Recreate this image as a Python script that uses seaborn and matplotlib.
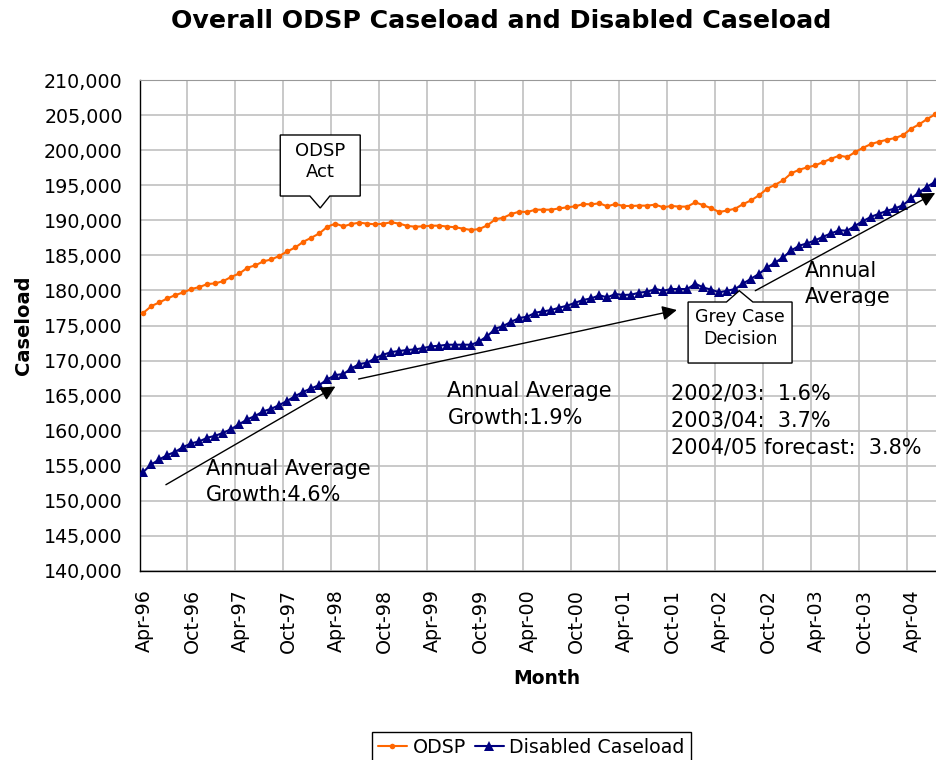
import numpy as np
import pandas as pd
import seaborn as sns
import matplotlib.pyplot as plt
from matplotlib.patches import Polygon
from matplotlib.transforms import Bbox, ScaledTranslation

# --- data (monthly, Apr-96 .. Jul-04) ---
odsp = [176820, 177780, 178300, 178870, 179340, 179730, 180200, 180490, 180910, 181010,
        181340, 181950, 182420, 183240, 183580, 184150, 184420, 184930, 185570, 186140,
        186950, 187520, 188140, 189090, 189520, 189140, 189470, 189660, 189520, 189420,
        189520, 189710, 189520, 189190, 189090, 189140, 189230, 189230, 189100, 189000,
        188800, 188610, 188760, 189280, 190140, 190370, 190900, 191230, 191180, 191510,
        191510, 191510, 191700, 191850, 191990, 192320, 192270, 192420, 191990, 192320,
        192040, 192040, 192090, 192090, 192230, 191850, 192040, 191950, 191950, 192560,
        192150, 191720, 191180, 191400, 191660, 192320, 192850, 193600, 194510, 195080,
        195700, 196700, 197210, 197540, 197830, 198310, 198780, 199210, 199020, 199730,
        200350, 200880, 201210, 201490, 201730, 202160, 203060, 203680, 204440, 205110]

disabled = [154160, 155210, 155920, 156540, 157010, 157700, 158200, 158500, 159000, 159290,
            159720, 160250, 160960, 161620, 162140, 162770, 163140, 163670, 164280, 164950,
            165560, 166050, 166520, 167330, 167940, 168080, 168890, 169510, 169700, 170370,
            170840, 171220, 171370, 171510, 171600, 171790, 172030, 172120, 172260, 172260,
            172260, 172260, 172740, 173500, 174550, 174930, 175550, 176070, 176260, 176830,
            177020, 177210, 177550, 177830, 178260, 178640, 178870, 179300, 179020, 179490,
            179350, 179400, 179680, 179820, 180200, 179960, 180200, 180200, 180200, 180960,
            180420, 180100, 179730, 179960, 180200, 181010, 181680, 182390, 183290, 184000,
            184720, 185700, 186380, 186720, 187150, 187660, 188140, 188570, 188520, 189230,
            189900, 190510, 190940, 191370, 191700, 192180, 193130, 193990, 194790, 195500]

tick_labels = ['Apr-96', 'Oct-96', 'Apr-97', 'Oct-97', 'Apr-98', 'Oct-98', 'Apr-99',
               'Oct-99', 'Apr-00', 'Oct-00', 'Apr-01', 'Oct-01', 'Apr-02', 'Oct-02',
               'Apr-03', 'Oct-03', 'Apr-04']

# Excel-style category axis: points sit in the middle of each month slot
df = pd.DataFrame({'pos': np.arange(len(odsp)) + 0.5,
                   'ODSP': odsp,
                   'Disabled Caseload': disabled})

sns.set_style('white')
plt.rcParams['font.family'] = ['DejaVu Sans']
plt.rcParams['text.color'] = 'black'
plt.rcParams['axes.labelcolor'] = 'black'

fig = plt.figure(figsize=(9.36, 7.6), dpi=100)
ax = fig.add_axes([139.5 / 936, 1 - 571 / 760, 1 - 139.5 / 936, (571 - 80) / 760])

sns.lineplot(data=df, x='pos', y='ODSP', ax=ax, color='#FF6600', lw=1.5,
             marker='o', markersize=4, markeredgewidth=0, label='ODSP', zorder=3)
sns.lineplot(data=df, x='pos', y='Disabled Caseload', ax=ax, color='#000080', lw=1.5,
             marker='^', markersize=7, markeredgewidth=0, label='Disabled Caseload', zorder=3)
handles, labels = ax.get_legend_handles_labels()
ax.get_legend().remove()

ax.set_xlim(0, 99.6)
ax.set_ylim(140000, 210000)
ax.set_yticks(np.arange(140000, 210001, 5000))
ax.yaxis.set_major_formatter(plt.FuncFormatter(lambda v, _: f'{v:,.0f}'))
ax.set_xticks(np.arange(0, 6 * len(tick_labels), 6))
ax.set_xticks(np.arange(3, 100, 6), minor=True)
ax.set_xticklabels(tick_labels, rotation=90)

ax.tick_params(axis='both', which='both', direction='out', length=5, width=1,
               color='black', labelsize=13.7, labelcolor='black')
ax.tick_params(axis='y', pad=7)
ax.tick_params(axis='x', pad=8)
# labels sit in the middle of the month slot, like Excel does
for lab in ax.get_xticklabels():
    lab.set_transform(lab.get_transform() + ScaledTranslation(0.05, 0, fig.dpi_scale_trans))
ax.set_xlabel('')
ax.set_ylabel('')

ax.grid(True, which='major', color='#c0c0c0', lw=1.2)
ax.set_axisbelow(True)
for s in ['left', 'bottom']:
    ax.spines[s].set_color('black')
    ax.spines[s].set_linewidth(1)
ax.spines['top'].set_color('#999999')
ax.spines['right'].set_visible(False)

# --- titles ---
fig.text(501 / 936, 1 - 21 / 760, 'Overall ODSP Caseload and Disabled Caseload',
         ha='center', va='center', fontsize=18.2, fontweight='bold', color='black')
fig.text(24 / 936, 1 - 325 / 760, 'Caseload', rotation=90, ha='center', va='center',
         fontsize=14, fontweight='bold', color='black')
fig.text(547 / 936, 1 - 679 / 760, 'Month', ha='center', va='center',
         fontsize=13.5, fontweight='bold', color='black')

# --- arrows and growth notes ---
arrow = dict(arrowstyle='-|>', color='black', lw=1, mutation_scale=22, shrinkA=0, shrinkB=0)
ax.annotate('', xy=(24.5, 166300), xytext=(3.3, 152300), arrowprops=arrow)
ax.annotate('', xy=(67.2, 177210), xytext=(27.4, 167370), arrowprops=arrow)
ax.annotate('', xy=(99.5, 193900), xytext=(77.0, 179960), arrowprops=arrow, annotation_clip=False)

ax.text(8.3, 156000, 'Annual Average\nGrowth:4.6%', fontsize=15, va='top', ha='left',
        linespacing=1.4)
ax.text(38.5, 167100, 'Annual Average\nGrowth:1.9%', fontsize=15, va='top', ha='left',
        linespacing=1.45)
ax.text(66.5, 166800, '2002/03:  1.6%\n2003/04:  3.7%\n2004/05 forecast:  3.8%',
        fontsize=15, va='top', ha='left', linespacing=1.45)
# text box in the source is too small, the second line gets cut
t = ax.text(83.2, 184200, 'Annual\nAverage\nGrowth', fontsize=15, va='top', ha='left',
            linespacing=1.4)
t.set_clip_box(Bbox.from_extents(780, 760 - 306, 936, 760 - 240))
t.set_clip_on(True)

# --- callouts ---
x0, x1, yt, yb = 17.6, 27.6, 202160, 193460
act = Polygon([(x0, yt), (x1, yt), (x1, yb), (23.8, yb), (22.6, 191750), (21.3, yb), (x0, yb)],
              closed=True, facecolor='white', edgecolor='black', lw=1, zorder=5)
ax.add_patch(act)
ax.text(22.6, 198350, 'ODSP\nAct', fontsize=13, ha='center', va='center',
        linespacing=1.25, zorder=6)

x0, x1, yt, yb = 68.6, 81.6, 178350, 169650
grey = Polygon([(x0, yt), (73.4, yt), (75.0, 179960), (76.7, yt), (x1, yt), (x1, yb), (x0, yb)],
               closed=True, facecolor='white', edgecolor='black', lw=1, zorder=5)
ax.add_patch(grey)
ax.text(75.1, 174600, 'Grey Case\nDecision', fontsize=12.5, ha='center', va='center',
        linespacing=1.3, zorder=6)

# --- legend (cut off at the bottom like the source) ---
fig.legend(handles, labels, loc='upper center', bbox_to_anchor=(531.5 / 936, 1 - 732 / 760),
           ncol=2, frameon=True, fancybox=False, edgecolor='black', framealpha=1,
           fontsize=13.7, handlelength=1.5, handletextpad=0.3, columnspacing=0.5,
           borderpad=0.3, borderaxespad=0)

fig.savefig('out.png', dpi=100)
